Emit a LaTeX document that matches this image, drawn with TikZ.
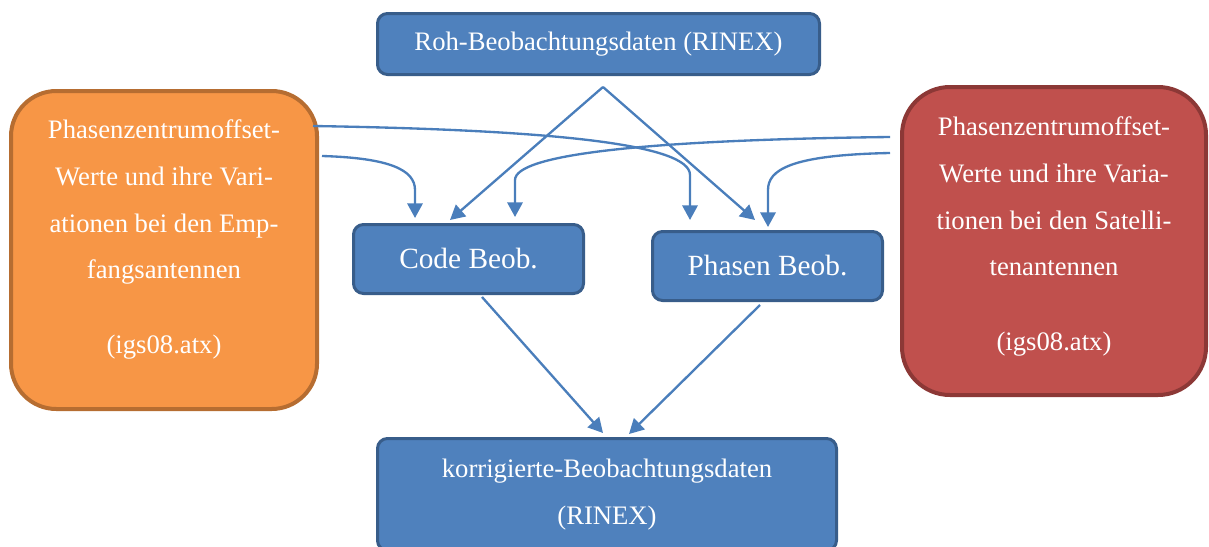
\documentclass[tikz,border=0pt]{standalone}
\usepackage{fontspec}
\newfontfamily\boxfont{LiberationSerif-Regular.ttf}
\usepackage{tikz}
\usetikzlibrary{arrows.meta,calc}

\definecolor{bluefill}{HTML}{4F81BD}
\definecolor{blueline}{HTML}{385D8A}
\definecolor{orangefill}{HTML}{F79646}
\definecolor{orangeline}{HTML}{B66D31}
\definecolor{redfill}{HTML}{C0504D}
\definecolor{redline}{HTML}{8C3836}
\definecolor{linkcol}{HTML}{4A7EBB}

\begin{document}
\begin{tikzpicture}[x=0.75pt,y=-0.75pt,
    box/.style={rectangle,rounded corners=7.5pt,draw=blueline,fill=bluefill,line width=2.25pt,
        text=white,align=center,inner sep=2pt,font=\boxfont\fontsize{20}{35}\selectfont},
    bigbox/.style={rectangle,rounded corners=34pt,line width=3pt,inner sep=0pt},
    boxtext/.style={text=white,align=center,inner sep=0pt,font=\boxfont\fontsize{20}{35}\selectfont},
    link/.style={draw=linkcol,line width=1.75pt,-{Triangle[length=11pt,width=11.5pt]}}]
    \useasboundingbox (0,0) rectangle (1209,546);

    \node[box,minimum width=331.5pt,minimum height=45.75pt] (raw) at (598.5,44) {Roh-Beobachtungsdaten (RINEX)};
    \node[box,minimum width=172.5pt,minimum height=51.75pt,font=\boxfont\fontsize{22}{26}\selectfont] (code) at (468.5,259) {Code Beob.};
    \node[box,minimum width=172.5pt,minimum height=51.75pt,font=\boxfont\fontsize{22}{26}\selectfont] (phase) at (767.5,266) {Phasen Beob.};
    \node[box,minimum width=344.25pt,minimum height=84pt] (corr) at (607,494.5) {korrigierte-Beobachtungsdaten\\(RINEX)};

    \node[bigbox,draw=orangeline,fill=orangefill,minimum width=229.5pt,minimum height=238.5pt] (ant) at (164,250) {};
    \node[boxtext] (antText) at (164,239.5) {Phasenzentrumoffset-\\Werte und ihre Vari-\\ationen bei den Emp-\\fangsantennen\\[21pt](igs08.atx)};
    \node[bigbox,draw=redline,fill=redfill,minimum width=228pt,minimum height=231pt,rounded corners=36pt] (sat) at (1054,241) {};
    \node[boxtext] (satText) at (1054,236.5) {Phasenzentrumoffset-\\Werte und ihre Varia-\\tionen bei den Satelli-\\tenantennen\\[21pt](igs08.atx)};

    % end points of the connectors
    \coordinate (split) at ($(raw.south)+(4.5,11)$);
    \coordinate (antA) at ($(ant.east)+(-6,-124)$);
    \coordinate (antB) at ($(ant.east)+(3,-94)$);
    \coordinate (satA) at ($(sat.west)+(-10,-104)$);
    \coordinate (satB) at ($(sat.west)+(-10,-88)$);
    \coordinate (codeL) at ($(code.north)+(-53.5,-5)$);
    \coordinate (codeM) at ($(code.north)+(-18.5,-3)$);
    \coordinate (codeR) at ($(code.north)+(46.5,-6)$);
    \coordinate (phaseL) at ($(phase.north)+(-77.5,-10)$);
    \coordinate (phaseM) at ($(phase.north)+(-12.5,-10)$);
    \coordinate (phaseR) at ($(phase.north)+(0.5,-3)$);
    \coordinate (corrL) at ($(corr.north)+(-4,-4)$);
    \coordinate (corrR) at ($(corr.north)+(22,-3)$);

    \draw[link] (split) -- (codeM);
    \draw[link] (split) -- (phaseM);
    \draw[link] (antA) .. controls +(247,4) and +(0,-30) .. ++(377,49) -- (phaseL);
    \draw[link] (antB) .. controls +(68,2) and +(0,-20) .. ++(93,34) -- (codeL);
    \draw[link] (satA) .. controls +(-250,3) and +(0,-25) .. ++(-375,43) -- (codeR);
    \draw[link] (satB) .. controls +(-100,2) and +(0,-20) .. ++(-122,37) -- (phaseR);
    \draw[link] ($(code.south)+(13.5,2)$) -- (corrL);
    \draw[link] ($(phase.south)+(-7.5,3)$) -- (corrR);
\end{tikzpicture}
\end{document}
